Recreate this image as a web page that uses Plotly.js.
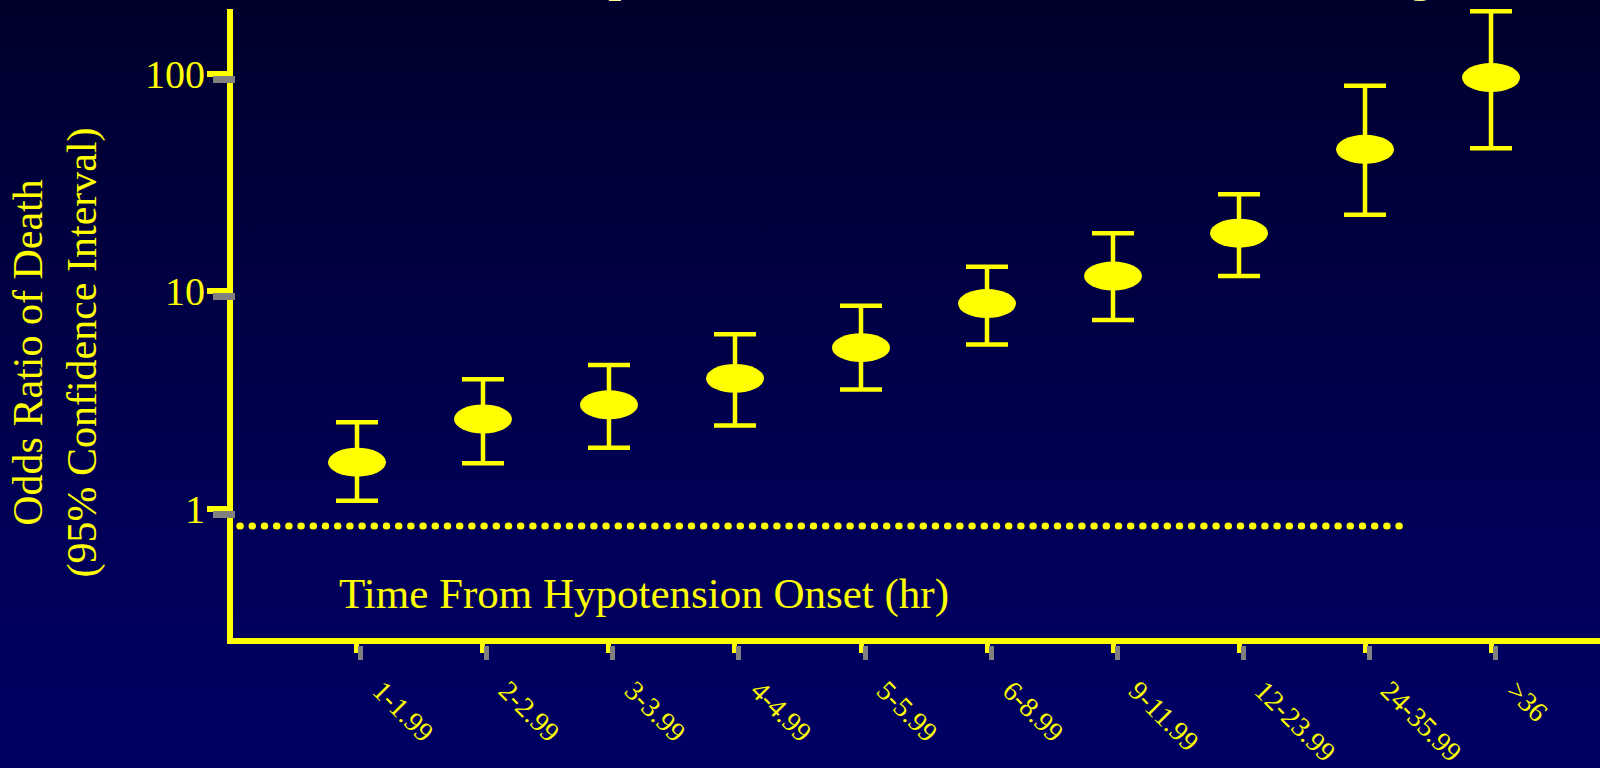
<!DOCTYPE html>
<html>
<head>
<meta charset="utf-8">
<script src="https://cdn.plot.ly/plotly-3.0.1.min.js"></script>
<style>
  html, body { margin:0; padding:0; width:1600px; height:768px; overflow:hidden;
    background: linear-gradient(to bottom, #00002c 0%, #00003e 30%, #000058 70%, #000064 100%); }
  #chart { width:1600px; height:768px; }
  .shapelayer path { stroke-linecap: round; }
</style>
</head>
<body>
<div id="chart"></div>
<script>
// ---- data ----
const categories = ['1-1.99','2-2.99','3-3.99','4-4.99','5-5.99','6-8.99','9-11.99','12-23.99','24-35.99','>36'];
const oddsRatio  = [1.64, 2.59, 3.01, 3.98, 5.51, 8.78, 11.75, 18.5, 44.9, 95.9];
const ciUpper    = [2.50, 3.94, 4.59, 6.35, 8.59, 12.96, 18.5, 27.9, 87.9, 193.6];
const ciLower    = [1.09, 1.62, 1.91, 2.42, 3.54, 5.69, 7.38, 11.75, 22.5, 45.4];
const yTickVals  = [1, 10, 100];
const yTickText  = ['1', '10', '100'];
const refLineValue = 0.835;

const YEL = '#ffff00';
const GREY = '#808080';
const FONT = '"Liberation Serif", "Times New Roman", serif';

const PPD = 217.7;                 // pixels per decade on the y axis
const yRange = [-0.593, 2.297];
const xRange = [-0.984, 9.865];
const yShift = 5.5 / PPD;          // grey tick shadow offset (log units)
const xShift = 4 / 126;            // grey tick shadow offset (category units)
const ellK = Math.pow(10, 14.5 / PPD);

const idx = categories.map((c, i) => i);

const traces = [
  {
    type: 'scatter', mode: 'markers',
    x: categories, y: oddsRatio,
    marker: { size: 2, color: YEL },
    error_y: {
      type: 'data', symmetric: false,
      array: ciUpper.map((u, i) => u - oddsRatio[i]),
      arrayminus: ciLower.map((l, i) => oddsRatio[i] - l),
      color: YEL, thickness: 4.5, width: 21
    },
    hoverinfo: 'skip', showlegend: false
  },
  { type: 'scatter', mode: 'markers', x: [categories[0]], y: [oddsRatio[0]], yaxis: 'y2',
    marker: { opacity: 0 }, hoverinfo: 'skip', showlegend: false },
  { type: 'scatter', mode: 'markers', x: [idx[0]], y: [oddsRatio[0]], xaxis: 'x2',
    marker: { opacity: 0 }, hoverinfo: 'skip', showlegend: false }
];

const shapes = oddsRatio.map((v, i) => ({
  type: 'circle', xref: 'x', yref: 'y',
  xsizemode: 'pixel', xanchor: idx[i], x0: -29, x1: 29,
  y0: v / ellK, y1: v * ellK,
  fillcolor: YEL, line: { width: 0 }, layer: 'above'
}));
shapes.push({
  type: 'line', xref: 'paper', yref: 'y',
  x0: 0.005, x1: 0.858, y0: refLineValue, y1: refLineValue,
  line: { color: YEL, width: 7, dash: '0.5px,11.7px' }
});

const layout = {
  width: 1600, height: 768,
  paper_bgcolor: 'rgba(0,0,0,0)', plot_bgcolor: 'rgba(0,0,0,0)',
  margin: { l: 233, r: 0, t: 9, b: 123, pad: 0 },
  showlegend: false,
  font: { family: FONT, color: YEL },
  xaxis: {
    type: 'category', categoryorder: 'array', categoryarray: categories,
    range: xRange, showgrid: false, zeroline: false,
    showline: true, linecolor: YEL, linewidth: 6,
    ticks: 'outside', ticklen: 9, tickwidth: 5, tickcolor: YEL,
    tickangle: 45, tickfont: { family: FONT, size: 28, color: YEL },
    ticklabelstandoff: 10, ticklabelshift: 24, fixedrange: true
  },
  xaxis2: {
    type: 'linear', overlaying: 'x', anchor: 'free', position: 0,
    range: [xRange[0] - xShift, xRange[1] - xShift],
    tickvals: idx, ticks: 'outside', ticklen: 14, tickwidth: 5, tickcolor: GREY,
    showticklabels: false, showline: false, showgrid: false, zeroline: false
  },
  yaxis: {
    type: 'log', range: yRange, domain: [0.011, 1],
    tickvals: yTickVals, ticktext: yTickText,
    showgrid: false, zeroline: false,
    showline: true, linecolor: YEL, linewidth: 6,
    ticks: 'outside', ticklen: 20, tickwidth: 6, tickcolor: YEL,
    tickfont: { family: FONT, size: 40, color: YEL },
    ticklabelstandoff: -6, fixedrange: true
  },
  yaxis2: {
    type: 'log', overlaying: 'y', anchor: 'free', position: 2 / 1367, side: 'left',
    domain: [0.011, 1],
    range: [yRange[0] + yShift, yRange[1] + yShift],
    tickvals: yTickVals, ticks: 'outside', ticklen: 22, tickwidth: 7, tickcolor: GREY,
    showticklabels: false, showline: false, showgrid: false, zeroline: false
  },
  shapes: shapes,
  annotations: [
    { text: 'Impact of Time to Antimicrobial Dosing', xref: 'paper', yref: 'paper',
      x: 0.2282, y: 1.0101, xanchor: 'left', yanchor: 'bottom', showarrow: false,
      font: { family: FONT, size: 55, color: '#ffff99' } },
    { text: 'Time From Hypotension Onset (hr)', xref: 'paper', yref: 'paper',
      x: 0.3006, y: 0.0802, xanchor: 'center', yanchor: 'middle', showarrow: false,
      font: { family: FONT, size: 43, color: YEL } },
    { text: 'Odds Ratio of Death<br>(95% Confidence Interval)', xref: 'paper', yref: 'paper',
      x: -0.1298, y: 0.4591, xanchor: 'center', yanchor: 'middle', textangle: -90,
      showarrow: false, font: { family: FONT, size: 42, color: YEL } }
  ]
};

Plotly.newPlot('chart', traces, layout, { staticPlot: true, displayModeBar: false });
</script>
</body>
</html>
